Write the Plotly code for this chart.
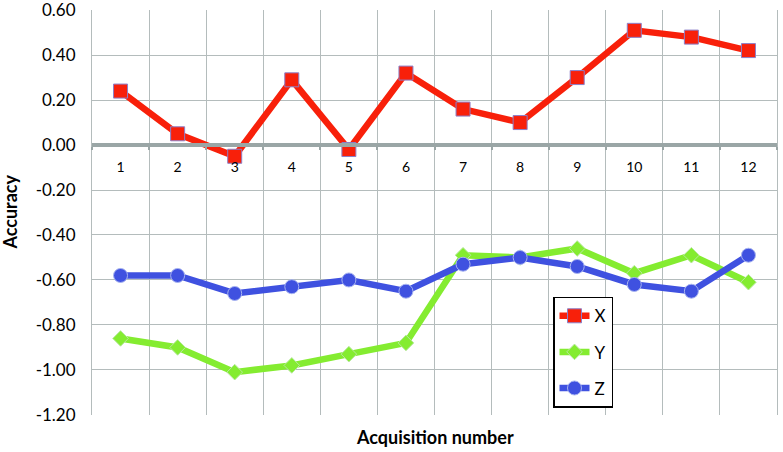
import plotly.graph_objects as go

acquisitions = ["1", "2", "3", "4", "5", "6", "7", "8", "9", "10", "11", "12"]
x_acc = [0.24, 0.05, -0.05, 0.29, -0.02, 0.32, 0.16, 0.10, 0.30, 0.51, 0.48, 0.42]
y_acc = [-0.86, -0.90, -1.01, -0.98, -0.93, -0.88, -0.49, -0.50, -0.46, -0.57, -0.49, -0.61]
z_acc = [-0.58, -0.58, -0.66, -0.63, -0.60, -0.65, -0.53, -0.50, -0.54, -0.62, -0.65, -0.49]

y_ticks = [-1.2, -1.0, -0.8, -0.6, -0.4, -0.2, 0.0, 0.2, 0.4, 0.6]
y_tick_labels = ["-1.20", "-1.00", "-0.80", "-0.60", "-0.40", "-0.20", "0.00", "0.20", "0.40", "0.60"]

FONT = "Lato"
GRID = "#b4bcbc"

series = [
    ("X", x_acc, "#f8200a", "square", 14, "#8c7fc8"),
    ("Y", y_acc, "#84ec30", "diamond", 12, "#b8e8a0"),
    ("Z", z_acc, "#3f51e0", "circle", 14, "#a8b4f0"),
]

fig = go.Figure()
for name, vals, color, symbol, size, edge in series:
    fig.add_trace(go.Scatter(
        x=acquisitions,
        y=vals,
        name=name,
        legendgroup=name,
        mode="lines+markers",
        line=dict(color=color, width=6.5),
        marker=dict(symbol=symbol, size=size, color=color,
                    line=dict(color=edge, width=1)),
    ))

fig.update_layout(
    width=783,
    height=452,
    margin=dict(l=92, r=6, t=10, b=37),
    plot_bgcolor="white",
    paper_bgcolor="white",
    font=dict(family=FONT, color="black"),
    showlegend=True,
    legend=dict(
        x=0.673, y=0.292, xanchor="left", yanchor="top",
        bordercolor="black", borderwidth=1.5, bgcolor="white",
        font=dict(size=17, family=FONT),
        tracegroupgap=11,
    ),
    xaxis=dict(
        type="category",
        categoryorder="array",
        categoryarray=acquisitions,
        range=[-0.5, len(acquisitions) - 0.5],
        tickson="boundaries",
        anchor="free",
        position=1.2 / 1.8,
        automargin=False,
        showgrid=True,
        gridcolor=GRID,
        gridwidth=1,
        showline=True,
        linecolor="#9aa6a6",
        linewidth=4,
        ticks="outside",
        ticklen=3,
        tickcolor="#9aa6a6",
        tickwidth=2,
        tickfont=dict(size=14, family=FONT),
        ticklabelstandoff=8,
    ),
    yaxis=dict(
        range=[-1.2005, 0.6005],
        automargin=False,
        ticklabeloverflow="allow",
        ticklabelstandoff=12,
        tickvals=y_ticks,
        ticktext=y_tick_labels,
        showgrid=True,
        gridcolor=GRID,
        gridwidth=1,
        zeroline=False,
        showline=True,
        linecolor=GRID,
        linewidth=1,
        mirror=True,
        tickfont=dict(size=17, family=FONT),
        ticks="",
    ),
    annotations=[
        dict(
            text="<b>Acquisition number</b>",
            xref="paper", yref="paper",
            x=0.5, y=0, yanchor="middle", yshift=-22,
            showarrow=False,
            font=dict(size=18, family=FONT),
        ),
        dict(
            text="<b>Accuracy</b>",
            xref="paper", yref="paper",
            x=0, y=0.5, xanchor="center", xshift=-83,
            textangle=-90,
            showarrow=False,
            font=dict(size=18, family=FONT),
        ),
    ],
)

# drop the default 8px body margin so the figure sits at the page origin
fig.write_html("out.html", config={"displayModeBar": False},
               post_script="document.body.style.margin='0';")
